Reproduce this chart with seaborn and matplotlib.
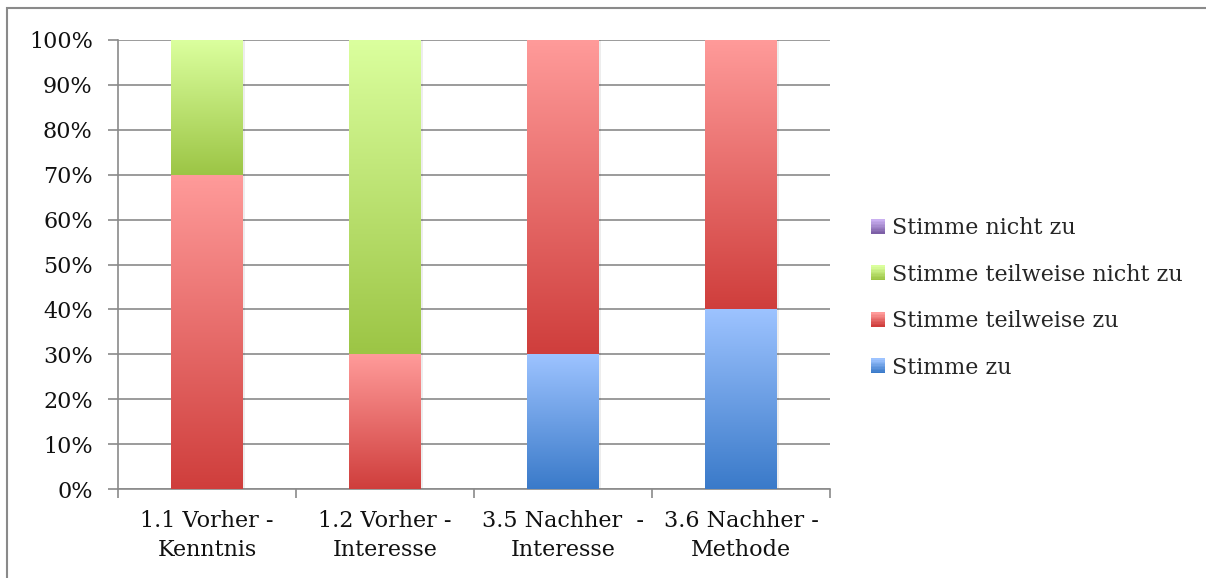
import numpy as np
import pandas as pd
import matplotlib
matplotlib.use("Agg")
import matplotlib.pyplot as plt
import seaborn as sns
from matplotlib.colors import LinearSegmentedColormap
from matplotlib.patches import Rectangle
from matplotlib.legend_handler import HandlerBase

# Data (percent of answers per statement)
categories = ["1.1 Vorher -\nKenntnis", "1.2 Vorher -\nInteresse",
              "3.5 Nachher  -\nInteresse", "3.6 Nachher -\nMethode"]
series_names = ["Stimme zu", "Stimme teilweise zu",
                "Stimme teilweise nicht zu", "Stimme nicht zu"]
stimme_zu = [0, 0, 30, 40]
teilweise_zu = [70, 30, 70, 60]
teilweise_nicht_zu = [30, 70, 0, 0]
nicht_zu = [0, 0, 0, 0]
y_ticks = [0, 10, 20, 30, 40, 50, 60, 70, 80, 90, 100]

# gradient colours: (bottom, top) for each series
gradients = {
    "Stimme zu": ("#3a7ac9", "#9dc3ff"),
    "Stimme teilweise zu": ("#cf3e3c", "#ff9b9a"),
    "Stimme teilweise nicht zu": ("#9cc545", "#dbff9e"),
    "Stimme nicht zu": ("#7d5fa6", "#c9aff0"),
}

values = [stimme_zu, teilweise_zu, teilweise_nicht_zu, nicht_zu]
cum = np.cumsum(np.array(values, dtype=float), axis=0)

sns.set_theme(style="white")
plt.rcParams["font.family"] = ["DejaVu Serif"]
FS = 16

W, H = 1206, 578
fig = plt.figure(figsize=(W / 100, H / 100), dpi=100)
ax = fig.add_axes([118 / W, 1 - 489 / H, (830 - 118) / W, (489 - 40) / H])

# outer chart frame
fig.patches.append(Rectangle((7 / W, -0.05), 1.2, 1 - 8 / H + 0.05,
                             transform=fig.transFigure, fill=False,
                             edgecolor="#8a8a8a", linewidth=1.5))

# stacked bars: draw cumulative totals, tallest first
layer_patches = []
for k in range(len(series_names) - 1, -1, -1):
    df = pd.DataFrame({"cat": categories, "val": cum[k]})
    n_before = len(ax.patches)
    sns.barplot(data=df, x="cat", y="val", ax=ax, width=0.4,
                color="white", edgecolor="none", zorder=2)
    layer_patches.insert(0, ax.patches[n_before:])

# gradient fill per segment
grad = np.linspace(0, 1, 256).reshape(-1, 1)
for k, name in enumerate(series_names):
    cmap = LinearSegmentedColormap.from_list(name, gradients[name])
    for i, p in enumerate(layer_patches[k]):
        top = p.get_height()
        bottom = layer_patches[k - 1][i].get_height() if k > 0 else 0.0
        if top - bottom <= 0:
            continue
        x0 = p.get_x()
        x1 = x0 + p.get_width()
        # soft shadow on the right side
        ax.add_patch(Rectangle((x1, bottom), 0.012, top - bottom,
                               facecolor="#000000", alpha=0.07,
                               edgecolor="none", zorder=2.5))
        ax.imshow(grad, cmap=cmap, origin="lower", aspect="auto",
                  extent=(x0, x1, bottom, top), zorder=3,
                  interpolation="bicubic")

ax.set_xlim(-0.5, len(categories) - 0.5)
ax.set_ylim(0, 100)
ax.set_xlabel("")
ax.set_ylabel("")

grid_c = "#8a8a8a"
ax.set_yticks(y_ticks)
ax.set_yticklabels([f"{t}%" for t in y_ticks], fontsize=FS, color="#111111")
ax.yaxis.grid(True, color=grid_c, linewidth=1.2, zorder=0)
ax.set_axisbelow(True)

ax.set_xticks(range(len(categories)))
ax.set_xticklabels(categories, fontsize=FS, color="#111111", linespacing=1.45)
ax.set_xticks(np.arange(-0.5, len(categories)), minor=True)
ax.tick_params(axis="x", which="major", length=0, pad=15)
ax.tick_params(axis="x", which="minor", length=6.5, width=1.2, color=grid_c,
               direction="out", bottom=True)
ax.tick_params(axis="y", length=7.2, width=1.2, color=grid_c, left=True,
               direction="out", pad=11)

for s in ["top", "right"]:
    ax.spines[s].set_visible(False)
for s in ["left", "bottom"]:
    ax.spines[s].set_visible(True)
    ax.spines[s].set_color(grid_c)
    ax.spines[s].set_linewidth(1.2)


class GradientHandler(HandlerBase):
    def __init__(self, colors):
        super().__init__()
        self.colors = colors

    def create_artists(self, legend, orig_handle, xdescent, ydescent,
                       width, height, fontsize, trans):
        cmap = LinearSegmentedColormap.from_list("h", self.colors)
        n = 10
        side = 10.3
        x0 = -xdescent + (width - side)
        y0 = -ydescent + (height - side) / 2
        arts = []
        for j in range(n):
            r = Rectangle((x0, y0 + side * j / n), side, side / n + 0.3,
                          facecolor=cmap(j / (n - 1)), edgecolor="none",
                          transform=trans)
            arts.append(r)
        return arts


handles, handler_map = [], {}
for name in reversed(series_names):
    h = Rectangle((0, 0), 1, 1)
    handles.append(h)
    handler_map[h] = GradientHandler(gradients[name])

fig.legend(handles, list(reversed(series_names)), handler_map=handler_map,
           loc="center left", bbox_to_anchor=(871 / W, 1 - 298 / H),
           frameon=False, fontsize=FS, handlelength=0.65, handleheight=0.7,
           handletextpad=0.3, labelspacing=1.1, borderaxespad=0,
           borderpad=0)

fig.savefig("out.png", dpi=100)
